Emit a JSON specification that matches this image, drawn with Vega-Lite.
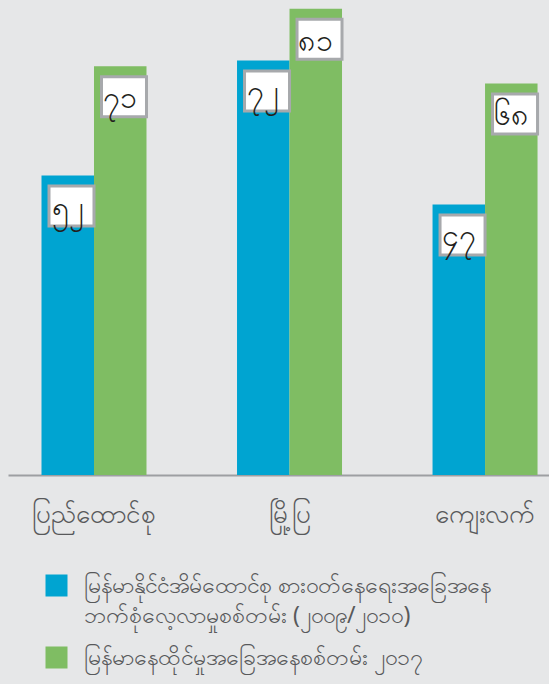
{
  "$schema": "https://vega.github.io/schema/vega-lite/v6.json",
  "width": 541,
  "height": 475,
  "autosize": "none",
  "padding": {"left": 8, "top": 0, "right": 0, "bottom": 209},
  "background": "#e6e7e8",
  "config": {"view": {"stroke": null}, "font": "Noto Sans"},
  "data": {
    "values": [
      {"area": "ပြည်ထောင်စု", "series": "မြန်မာနိုင်ငံအိမ်ထောင်စု စားဝတ်နေရေးအခြေအနေ\nဘက်စုံလေ့လာမှုစစ်တမ်း (၂၀၀၉/၂၀၁၀)", "value": 52, "label": "၅၂"},
      {"area": "ပြည်ထောင်စု", "series": "မြန်မာနေထိုင်မှုအခြေအနေစစ်တမ်း ၂၀၁၇", "value": 71, "label": "၇၁"},
      {"area": "မြို့ပြ", "series": "မြန်မာနိုင်ငံအိမ်ထောင်စု စားဝတ်နေရေးအခြေအနေ\nဘက်စုံလေ့လာမှုစစ်တမ်း (၂၀၀၉/၂၀၁၀)", "value": 72, "label": "၇၂"},
      {"area": "မြို့ပြ", "series": "မြန်မာနေထိုင်မှုအခြေအနေစစ်တမ်း ၂၀၁၇", "value": 81, "label": "၈၁"},
      {"area": "ကျေးလက်", "series": "မြန်မာနိုင်ငံအိမ်ထောင်စု စားဝတ်နေရေးအခြေအနေ\nဘက်စုံလေ့လာမှုစစ်တမ်း (၂၀၀၉/၂၀၁၀)", "value": 47, "label": "၄၇"},
      {"area": "ကျေးလက်", "series": "မြန်မာနေထိုင်မှုအခြေအနေစစ်တမ်း ၂၀၁၇", "value": 68, "label": "၆၈"}
    ]
  },
  "encoding": {
    "x": {
      "field": "area",
      "type": "nominal",
      "sort": null,
      "scale": {"paddingInner": 0.463, "paddingOuter": 0.115, "align": 0.745},
      "axis": {
        "title": null,
        "labelAngle": 0,
        "ticks": false,
        "domainColor": "#9d9fa2",
        "domainWidth": 2,
        "labelFontSize": 26,
        "labelColor": "#58595b",
        "labelPadding": 26
      }
    },
    "xOffset": {"field": "series", "sort": null, "scale": {"paddingInner": 0, "paddingOuter": 0}}
  },
  "layer": [
    {
      "mark": {"type": "bar"},
      "encoding": {
        "y": {"field": "value", "type": "quantitative", "scale": {"domain": [0, 82.5], "nice": false, "zero": true}, "axis": null},
        "color": {
          "field": "series",
          "type": "nominal",
          "sort": null,
          "scale": {"range": ["#00a4d1", "#7fbd63"]},
          "legend": {
            "title": null,
            "orient": "none",
            "legendX": 37,
            "legendY": 574,
            "padding": 0,
            "symbolType": "square",
            "symbolSize": 484,
            "symbolStrokeWidth": 0,
            "labelFontSize": 23,
            "labelColor": "#58595b",
            "labelOffset": 16,
            "labelLimit": 520,
            "rowPadding": 18,
            "labelExpr": "split(datum.label, '\\n')",
            "encode": {"labels": {"update": {"lineHeight": {"value": 30}}}}
          }
        }
      }
    },
    {
      "mark": {"type": "bar", "fill": "white", "stroke": "#a7a9ac", "strokeWidth": 3, "width": {"band": 0.857}, "yOffset": 10.5, "y2Offset": 50.5},
      "encoding": {
        "y": {"field": "value", "type": "quantitative"},
        "y2": {"field": "value"}
      }
    },
    {
      "mark": {"type": "text", "fontSize": 30, "color": "#231f20", "yOffset": 33, "baseline": "middle"},
      "encoding": {
        "y": {"field": "value", "type": "quantitative"},
        "text": {"field": "label"}
      }
    }
  ]
}
